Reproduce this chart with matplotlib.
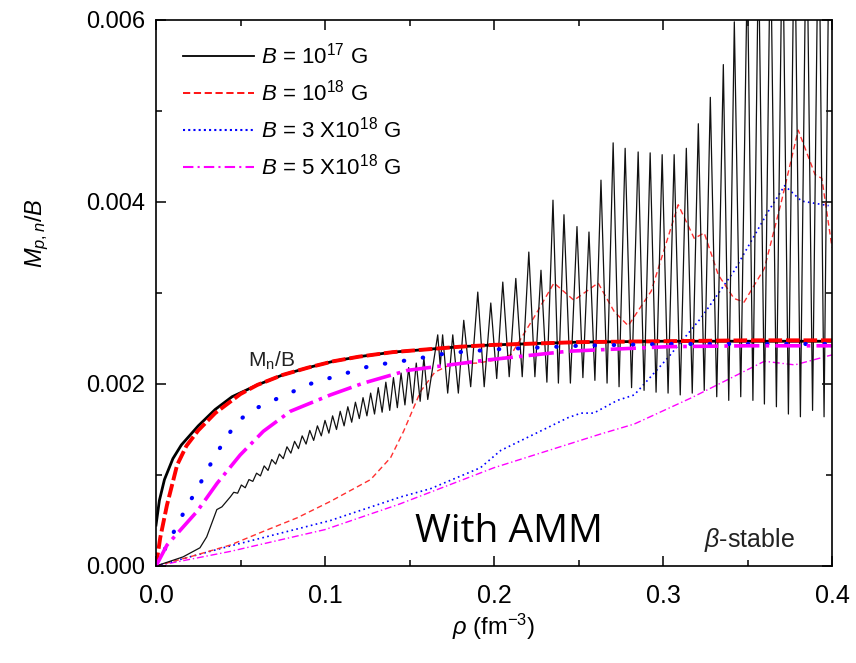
import matplotlib
matplotlib.use('Agg')
import matplotlib.pyplot as plt
from matplotlib.lines import Line2D
from matplotlib.ticker import MultipleLocator

plt.rcParams['font.family'] = ['Liberation Sans', 'DejaVu Sans']
plt.rcParams['mathtext.fontset'] = 'custom'
plt.rcParams['mathtext.rm'] = 'Liberation Sans'
plt.rcParams['mathtext.it'] = 'Liberation Sans:italic'
plt.rcParams['mathtext.bf'] = 'Liberation Sans:bold'

# --- thick curves: M_n / B ---
rho_n17 = [0, 0.002, 0.005, 0.01, 0.015, 0.025, 0.035, 0.045, 0.06, 0.075, 0.09,
           0.105, 0.12, 0.14, 0.16, 0.18, 0.2, 0.25, 0.3, 0.35, 0.4]
mn_17 = [0.00045, 0.00072, 0.00095, 0.00118, 0.00133, 0.00154, 0.00172, 0.00186,
         0.00199, 0.0021, 0.00218, 0.00225, 0.0023, 0.00235, 0.00238, 0.00241,
         0.00243, 0.00246, 0.00247, 0.00247, 0.00247]

rho_n18 = [0, 0.0025, 0.0065, 0.0125, 0.018, 0.025, 0.035, 0.05, 0.06, 0.075, 0.09,
           0.105, 0.12, 0.14, 0.16, 0.18, 0.2, 0.25, 0.3, 0.35, 0.4]
mn_18 = [0, 0.00031, 0.00067, 0.00111, 0.00132, 0.00149, 0.00168, 0.00189,
         0.00199, 0.0021, 0.00218, 0.00225, 0.0023, 0.00235, 0.00238, 0.00241,
         0.00243, 0.00246, 0.00247, 0.00248, 0.00248]

rho_n3 = [0, 0.0071, 0.0184, 0.0243, 0.0302, 0.0362, 0.048, 0.06, 0.0753, 0.0925,
          0.111, 0.127, 0.152, 0.1726, 0.2, 0.25, 0.3, 0.35, 0.4]
mn_3 = [0, 0.00025, 0.00066, 0.00084, 0.00105, 0.00125, 0.00159, 0.00174, 0.00187,
        0.00201, 0.00211, 0.0022, 0.00227, 0.00234, 0.00238, 0.00242, 0.00244,
        0.00244, 0.00244]

rho_n5 = [0, 0.0065, 0.0243, 0.0362, 0.0498, 0.0635, 0.0795, 0.1032, 0.1228, 0.1489,
          0.182, 0.194, 0.2438, 0.303, 0.35, 0.4]
mn_5 = [0, 0.00023, 0.0006, 0.00091, 0.00122, 0.00148, 0.0017, 0.00188, 0.00201,
        0.00215, 0.00223, 0.00226, 0.00236, 0.00241, 0.00242, 0.00242]

# --- thin curves: M_p / B ---
rho_p17 = [0, 0.008, 0.016, 0.026, 0.030, 0.033, 0.036, 0.039, 0.044,
           0.046, 0.0483, 0.0505, 0.0528, 0.055, 0.0573, 0.0595, 0.0618, 0.064, 0.0663,
           0.0685, 0.0708, 0.073, 0.0753, 0.0775, 0.0798, 0.082, 0.0843, 0.0865, 0.0888,
           0.091, 0.0933, 0.0955, 0.0978, 0.1, 0.1023, 0.1045, 0.1068, 0.109, 0.1113,
           0.1135, 0.1158, 0.118, 0.1203, 0.1225, 0.1248, 0.127, 0.1293, 0.1315, 0.1338,
           0.136, 0.1383, 0.1405, 0.1428, 0.145, 0.1473, 0.1495, 0.1518, 0.154, 0.1563,
           0.1585, 0.1608,
           0.1667, 0.1682, 0.1696, 0.1726, 0.1756, 0.1789, 0.1821, 0.1862, 0.1904, 0.1942,
           0.1981, 0.2016, 0.2052, 0.209, 0.2129, 0.2167, 0.2206, 0.2242, 0.2278, 0.2313,
           0.2349, 0.2381, 0.2414, 0.2452, 0.2491, 0.2526, 0.2562, 0.2597, 0.2633, 0.2669,
           0.2705, 0.274, 0.2776, 0.2814, 0.2853, 0.2888, 0.2924, 0.2959, 0.2995, 0.303,
           0.3066, 0.3102, 0.3138, 0.3173, 0.3209, 0.3244, 0.328, 0.3318, 0.3357, 0.3389,
           0.3422, 0.346, 0.3499, 0.3532, 0.3565, 0.36, 0.3636, 0.3671, 0.3707, 0.3742,
           0.3778, 0.3813, 0.3849, 0.3885, 0.3921, 0.3953, 0.3986, 0.4]
mp_17 = [0, 0.00005, 0.0001, 0.0002, 0.00032, 0.00047, 0.00062, 0.00065, 0.00076,
         0.00081, 0.0008, 0.00089, 0.00086, 0.00095, 0.00093, 0.00102, 0.00099, 0.0011, 0.00105,
         0.00117, 0.00112, 0.00123, 0.00118, 0.00131, 0.00124, 0.00137, 0.00129, 0.00143, 0.00134,
         0.00149, 0.00138, 0.00154, 0.00143, 0.0016, 0.00146, 0.00165, 0.0015, 0.0017, 0.00154,
         0.00175, 0.00158, 0.0018, 0.00162, 0.00185, 0.00165, 0.0019, 0.00167, 0.00196, 0.00169,
         0.00202, 0.00171, 0.00207, 0.00174, 0.00212, 0.00177, 0.00218, 0.00179, 0.00223, 0.00181,
         0.00229, 0.00183,
         0.00254, 0.0022, 0.00254, 0.0019, 0.00254, 0.0019, 0.0027, 0.00197, 0.00301, 0.00197,
         0.00289, 0.00206, 0.00312, 0.00208, 0.00316, 0.00208, 0.00345, 0.00208, 0.00325, 0.00202,
         0.00402, 0.00201, 0.00386, 0.00201, 0.00373, 0.00207, 0.00367, 0.00204, 0.00424, 0.00201,
         0.00465, 0.00197, 0.00459, 0.00196, 0.00455, 0.00193, 0.00454, 0.00191, 0.00452, 0.0019,
         0.00452, 0.00188, 0.00459, 0.0019, 0.00486, 0.00193, 0.00515, 0.00186, 0.00551, 0.00182,
         0.00598, 0.00186, 0.0066, 0.00182, 0.0068, 0.00178, 0.007, 0.00175, 0.0072, 0.00167,
         0.0073, 0.00164, 0.0074, 0.00171, 0.0075, 0.00164, 0.0076, 0.0068]

rho_p18 = [0, 0.02, 0.0439, 0.0635, 0.0836, 0.1032, 0.127, 0.1388, 0.1465, 0.1566,
           0.165, 0.175, 0.19, 0.2, 0.21, 0.2236, 0.2355, 0.2473, 0.2616, 0.271, 0.2794,
           0.293, 0.309, 0.3185, 0.3244, 0.3327, 0.342, 0.348, 0.36, 0.37, 0.38, 0.39,
           0.394, 0.4]
mp_18 = [0, 0.0001, 0.00023, 0.00038, 0.00053, 0.00071, 0.00095, 0.00119, 0.00148,
         0.00192, 0.00213, 0.00222, 0.00223, 0.00226, 0.00232, 0.00273, 0.00311, 0.00292,
         0.00311, 0.0028, 0.00264, 0.00302, 0.00397, 0.0036, 0.00366, 0.0032, 0.00294,
         0.0029, 0.00327, 0.004, 0.00479, 0.0043, 0.00426, 0.0035]

rho_p3 = [0, 0.0439, 0.1032, 0.145, 0.1625, 0.192, 0.204, 0.2438, 0.2515, 0.259,
          0.273, 0.283, 0.303, 0.3227, 0.342, 0.3624, 0.372, 0.382, 0.398]
mp_3 = [0, 0.00022, 0.0005, 0.00076, 0.00085, 0.00108, 0.00127, 0.00163, 0.00168,
        0.00168, 0.00182, 0.00188, 0.00229, 0.00273, 0.00324, 0.0039, 0.00418, 0.00401,
        0.00396]

rho_p5 = [0, 0.0439, 0.1, 0.144, 0.2, 0.263, 0.283, 0.317, 0.36, 0.378, 0.4]
mp_5 = [0, 0.00016, 0.0004, 0.00068, 0.00108, 0.00145, 0.00156, 0.00185, 0.00225,
        0.00221, 0.00232]

labels = ['$B$ = 10$^{17}$ G', '$B$ = 10$^{18}$ G',
          '$B$ = 3 X10$^{18}$ G', '$B$ = 5 X10$^{18}$ G']

fig = plt.figure(figsize=(8.56, 6.63), dpi=100)
ax = fig.add_axes([156 / 856, 1 - 566 / 663, (832 - 156) / 856, (566 - 20) / 663])

# thin proton curves
ax.plot(rho_p5, mp_5, color='magenta', lw=1.0, ls=(0, (5, 2, 1, 2)))
ax.plot(rho_p3, mp_3, color='blue', lw=1.2, ls=(0, (1, 2)))
ax.plot(rho_p18, mp_18, color='#ff3030', lw=1.0, ls=(0, (4, 2.5)))
ax.plot(rho_p17, mp_17, color='#111111', lw=0.9)

# thick neutron curves
ax.plot(rho_n17, mn_17, color='black', lw=2.0)
ax.plot(rho_n18, mn_18, color='red', lw=2.8, ls=(0, (3.5, 1)))
ax.plot(rho_n3, mn_3, color='blue', lw=3.0, ls=(0, (0.1, 4.5)), dash_capstyle='round')
ax.plot(rho_n5, mn_5, color='magenta', lw=2.6, ls=(0, (7, 1.7, 1, 1.7)))

ax.set_xlim(0, 0.4)
ax.set_ylim(0, 0.006)
ax.xaxis.set_major_locator(MultipleLocator(0.1))
ax.xaxis.set_minor_locator(MultipleLocator(0.05))
ax.yaxis.set_major_locator(MultipleLocator(0.002))
ax.yaxis.set_minor_locator(MultipleLocator(0.001))
ax.xaxis.set_major_formatter(plt.FormatStrFormatter('%.1f'))
ax.yaxis.set_major_formatter(plt.FormatStrFormatter('%.3f'))
ax.tick_params(which='both', direction='in', top=True, right=True, width=1.1)
ax.tick_params(which='major', length=7)
ax.tick_params(which='minor', length=4)
ax.tick_params(axis='x', labelsize=18, pad=13)
ax.tick_params(axis='y', labelsize=17, pad=8)
for s in ax.spines.values():
    s.set_linewidth(1.2)

ax.set_xlabel(r'$\rho$ (fm$^{-3}$)', fontsize=17, labelpad=3)
ax.set_ylabel('$M_{p,n}/B$', fontsize=17)
ax.yaxis.set_label_coords(-0.155, 0.61)

ax.text(0.0546, 0.00219, 'M$_\\mathregular{n}$/B', fontsize=15, color='#222222')
ax.text(0.209, 0.00026, 'With AMM', fontsize=28, family='Open Sans', ha='center')
ax.text(0.3245, 0.00021, r'$\beta$-stable', fontsize=18, color='#222222')

handles = [Line2D([], [], color='black', lw=1.3),
           Line2D([], [], color='red', lw=1.3, ls=(0, (4, 2))),
           Line2D([], [], color='blue', lw=1.5, ls=(0, (1, 1.5))),
           Line2D([], [], color='magenta', lw=1.5, ls=(0, (5, 2, 1, 2)))]
ax.legend(handles, labels, loc='upper left', bbox_to_anchor=(0.01, 0.995), frameon=False,
          fontsize=16, handlelength=3.2, labelspacing=0.5, handletextpad=0.3)

fig.savefig('out.png', dpi=100)
